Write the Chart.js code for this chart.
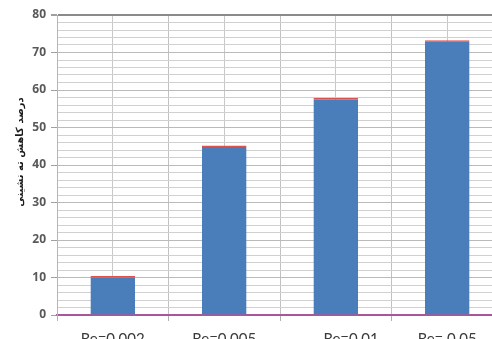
<!DOCTYPE html>
<html>
<head>
<meta charset="utf-8">
<script src="https://cdn.jsdelivr.net/npm/chart.js@4/dist/chart.umd.min.js"></script>
<style>
  html, body { margin: 0; padding: 0; background: #ffffff; overflow: hidden; width: 492px; height: 339px; }
  #wrap { position: absolute; left: 0; top: 0; width: 510px; height: 352px; }
</style>
</head>
<body>
<div id="wrap"><canvas id="chart" width="510" height="352"></canvas></div>
<script>
// Reynolds-number cases on the category axis
const categories = ['Re=0.002', 'Re=0.005', '        Re=0.01', 'Re= 0.05'];
// Sedimentation reduction, percent
const reductionPercent = [10.4, 45.2, 57.9, 73.3];
// Value axis range and step
const yMin = 0;
const yMax = 80;
const yMinorStep = 2;
const yMajorStep = 10;
const yTitle = 'درصد کاهش ته نشینی';

const gridMinor = '#d0d0d0';
const gridMajor = '#bababa';

// Vertical value-axis title, drawn beside the tick labels
const axisTitlePlugin = {
  id: 'axisTitle',
  afterDraw(chart) {
    const { ctx, chartArea } = chart;
    const cy = (chartArea.top + chartArea.bottom) / 2 - 13;
    ctx.save();
    ctx.translate(20, cy);
    ctx.rotate(-Math.PI / 2);
    ctx.font = 'bold 10px "DejaVu Sans"';
    ctx.fillStyle = '#1a1a1a';
    ctx.textAlign = 'center';
    ctx.textBaseline = 'middle';
    ctx.fillText(yTitle, 0, 0);
    ctx.restore();
  }
};

new Chart(document.getElementById('chart'), {
  type: 'bar',
  data: {
    labels: categories,
    datasets: [{
      data: reductionPercent,
      backgroundColor: '#4a7ebb',
      borderColor: '#e0504c',
      borderWidth: { top: 1.5, left: 0, right: 0, bottom: 0 },
      borderSkipped: false,
      barPercentage: 0.8,
      categoryPercentage: 0.5
    }]
  },
  plugins: [axisTitlePlugin],
  options: {
    responsive: false,
    animation: false,
    layout: { padding: { left: 4, right: 7, top: 15, bottom: 0 } },
    plugins: { legend: { display: false }, tooltip: { enabled: false } },
    scales: {
      x: {
        type: 'category',
        offset: true,
        grid: {
          offset: true,
          color: '#c2c2c2',
          tickColor: '#b0b0b0',
          tickLength: 6,
          drawOnChartArea: true
        },
        border: { display: true, color: '#a9579b', width: 1.5 },
        ticks: {
          color: '#3a3a3a',
          font: { family: 'Lato', size: 15 },
          padding: 9,
          maxRotation: 0,
          autoSkip: false
        },
        afterFit: s => { s.height = 352 - 315; }
      },
      xc: {
        type: 'category',
        position: 'top',
        offset: true,
        grid: { offset: false, color: '#c8c8c8', drawTicks: false },
        border: { display: false },
        ticks: { display: false },
        afterFit: s => { s.height = 0; }
      },
      y: {
        min: yMin,
        max: yMax,
        grid: {
          color: c => {
            const v = c.tick.value;
            if (v === yMax) return '#8a8a8a';
            if (v === yMin) return '#a9579b';
            return v % yMajorStep === 0 ? gridMajor : gridMinor;
          },
          lineWidth: c => (c.tick.value === yMax ? 2 : 1),
          tickColor: c => (c.tick.value % yMajorStep === 0 ? '#a0a0a0' : 'rgba(0,0,0,0)'),
          tickLength: 6
        },
        border: { display: true, color: '#b5b5b5' },
        ticks: {
          stepSize: yMinorStep,
          autoSkip: false,
          color: '#595959',
          font: { family: 'Open Sans', size: 12, weight: 'bold' },
          padding: 5,
          callback: v => (v % yMajorStep === 0 ? v : '')
        },
        afterFit: s => { s.width = 57 - 4; }
      }
    }
  }
});
</script>
</body>
</html>
